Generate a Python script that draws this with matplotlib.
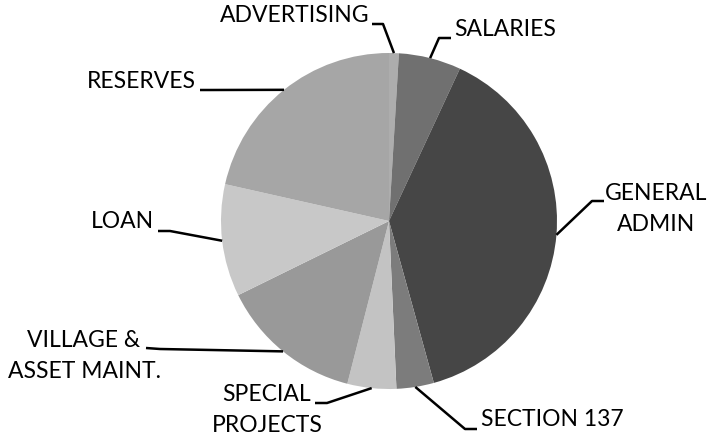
import numpy as np
import matplotlib.pyplot as plt

# ── data ────────────────────────────────────────────────────────────────────
labels = ['ADVERTISING', 'SALARIES', 'GENERAL\nADMIN', 'SECTION 137',
          'SPECIAL\nPROJECTS', 'VILLAGE &\nASSET MAINT.', 'LOAN', 'RESERVES']
shares = [0.94, 6.0, 38.8, 3.6, 4.7, 13.75, 10.8, 21.5]
colors = ['#adadad', '#707070', '#464646', '#7c7c7c',
          '#c3c3c3', '#999999', '#c8c8c8', '#a6a6a6']

# ── layout (pixels in a 712x437 canvas) ────────────────────────────────────
W, H = 712, 437
CX, CY, R = 389, 221, 168

# text centre, elbow of the leader, end of the leader near the text
label_layout = [
    ((295, 16), (383, 24), (372, 24)),
    ((505, 30), (439, 38), (451, 38)),
    ((656, 209), (592, 201), (604, 201)),
    ((552, 420), (465, 429), (477, 429)),
    ((267, 410), (327, 403), (315, 403)),
    ((84, 356), (160, 349), (146, 348)),
    ((122, 222), (170, 231), (158, 231)),
    ((141, 81), (210, 90), (200, 90)),
]


def px(x, y):
    """pixel position -> data coords (pie centred at 0,0 with radius 1)"""
    return (x - CX) / R, (CY - y) / R


plt.rcParams['font.family'] = ['Lato', 'DejaVu Sans']

fig = plt.figure(figsize=(W / 100, H / 100), dpi=100)
ax = fig.add_axes([0, 0, 1, 1])

ax.pie(shares, colors=colors, startangle=90, counterclock=False,
       radius=1, center=(0, 0), wedgeprops=dict(linewidth=0))

total = sum(shares)
cum = np.cumsum([0] + shares)
for i, (lab, (tpos, elbow, end)) in enumerate(zip(labels, label_layout)):
    mid = (cum[i] + cum[i + 1]) / 2 / total * 360
    theta = np.deg2rad(90 - mid)
    edge = (np.cos(theta), np.sin(theta))
    e = px(*elbow)
    n = px(*end)
    ax.plot([edge[0], e[0], n[0]], [edge[1], e[1], n[1]],
            color='black', lw=1.8, solid_capstyle='butt', zorder=3)
    tx, ty = px(*tpos)
    ax.text(tx, ty, lab, ha='center', va='center', multialignment='center',
            fontsize=16.5, linespacing=1.6, color='black')

ax.set_xlim(px(0, 0)[0], px(W, 0)[0])
ax.set_ylim(px(0, H)[1], px(0, 0)[1])
ax.set_aspect('auto')
ax.axis('off')

fig.savefig('out.png', dpi=100)
